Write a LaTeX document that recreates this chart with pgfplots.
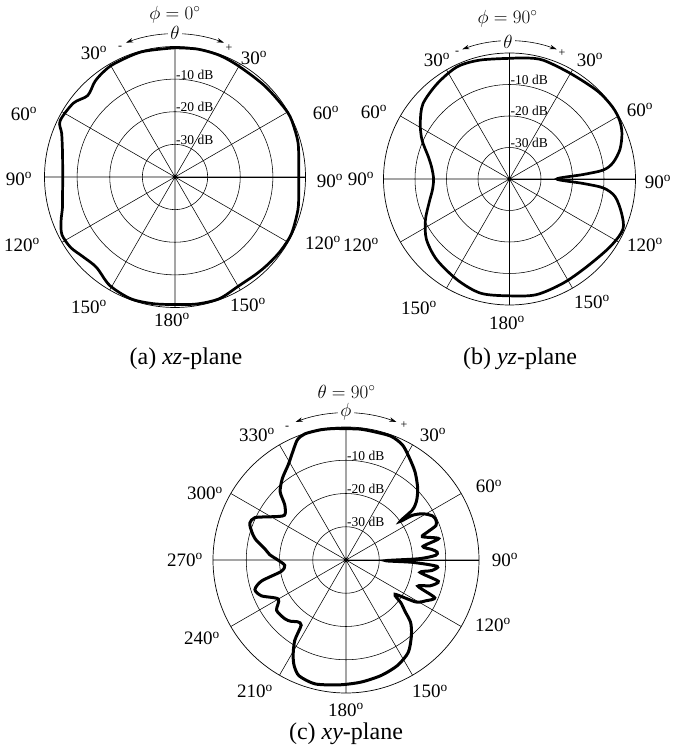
\RequirePackage{fix-cm}
\documentclass[border=0pt]{standalone}
\usepackage{fontspec}
\setmainfont{Liberation Serif}
\usepackage{pgfplots}
\pgfplotsset{compat=1.18}
\usepackage{pgfplotstable}
\usepgfplotslibrary{polar}
\usetikzlibrary{arrows.meta}

% angle a: degrees clockwise from the top; db: relative level
\pgfplotstableread{
a db
0 -0.4
10 -0.2
20 -0.3
30 -0.8
45 -0.8
60 -0.2
68 -0.5
75 -0.9
83 -1.8
90 -2.1
97 -1.8
105 -1.0
116 -0.3
125 -0.5
133 -0.9
140 -1.2
150 -1.3
160 -0.3
170 -0.5
180 -0.9
190 -0.6
200 -0.3
211 -1.2
221 -3.3
229 -2.7
236 -1.4
243 -1.1
249 -2.6
255 -4.3
262 -5.2
270 -5.6
277 -5.3
283 -4.6
291 -2.8
296 -0.8
306 -1.5
313 -3.4
320 -1.8
326 -1.0
332 -0.6
345 -0.3
360 -0.4
}\dataA

\pgfplotstableread{
a db
0 -1.7
8 -1.2
16 -0.8
30 -1.3
45 -0.5
55 -0.1
62 -0.4
68 -1.5
75 -3.7
81 -6.7
84.5 -10
86.5 -16.5
90 -25
93.5 -16.5
95.5 -10
99.5 -6
107 -2.8
114 -0.6
124 -1.5
139 -2.9
153 -2.8
167 -2.3
180 -2.9
194 -2.6
207 -3.9
222 -5.5
234 -7.4
244 -10.3
254 -13.5
262 -15.3
270 -15.9
278 -15.1
285 -13.4
294 -9.6
302 -6.6
311 -3.6
323 -2.0
335 -0.7
346 -1.1
360 -1.7
}\dataB

\pgfplotstableread{
a db
0 -0.5
6 -0.4
12 -0.5
20 -0.4
26 -1.4
31 -3.5
38 -6.3
45 -9.5
50 -12.3
53 -15
54.5 -20
56 -16
59 -13
63 -10.8
66 -10.4
69 -11
71 -14
73 -16
77 -11.4
80 -16.5
83 -14
85 -12.5
87 -13
89 -18
91 -28
92 -20
94 -12.5
97 -14
99.5 -17.4
103 -11.5
107 -13.5
110 -17
113 -11
117 -13
121 -15.5
125 -22
128 -19
131 -16.5
134 -13
139 -10
146 -6.5
154 -4.7
163 -3.7
173 -3
183 -2.4
194 -1.6
202 -2.4
206 -4.5
209 -7.2
212.5 -11.3
214.5 -16.2
218 -16.4
222 -15.2
226 -14.5
234 -14.2
240 -16.5
247 -12.4
252 -11.2
256 -13.8
260 -20.2
265 -21.5
270 -19.5
274 -17
278 -15.3
283 -12
287 -10.3
291 -9
295 -9.8
300 -14
306 -17.1
312 -15.2
316 -11.5
322 -8.9
329 -6.4
334 -3.6
338 -1
342 -0.1
349 -0.1
355 -0.3
360 -0.5
}\dataC

\pgfplotsset{
  pat/.style={
    scale only axis, width=#1, height=#1, anchor=center,
    xmin=0, xmax=360, ymin=0, ymax=40,
    xtick={0,30,...,330}, ytick={10,20,30},
    xticklabels={}, yticklabels={},
    x tick label style={opacity=0}, y tick label style={opacity=0},
    major tick length=0pt, tick style={draw=none},
    grid=major, major grid style={black, line width=0.55pt},
    axis line style={black, line width=0.7pt},
    clip=false,
  },
}

\tikzset{
  lab/.style={font=\fontsize{19}{21}\selectfont, inner sep=0pt},
  capt/.style={font=\fontsize{24}{26}\selectfont, inner sep=0pt},
  dbl/.style={font=\fontsize{13.5}{15}\selectfont, inner sep=1pt, anchor=base west},
  arr/.style={{Stealth[length=7pt,width=4.5pt]}-{Stealth[length=7pt,width=4.5pt]}, line width=0.6pt},
}

\begin{document}
\begin{tikzpicture}[x=1pt,y=1pt]
\path[use as bounding box] (0,0) rectangle (675,749);

% (a) xz-plane
\begin{polaraxis}[pat=261pt, at={(175pt,572pt)}]
  \addplot[black, line width=2.7pt, smooth, tension=0.5]
    table[x expr={90-\thisrow{a}}, y expr={\thisrow{db}+40}] {\dataA};
  \node[dbl] at (axis cs:90,30) {-10 dB};
  \node[dbl] at (axis cs:90,20) {-20 dB};
  \node[dbl] at (axis cs:90,10) {-30 dB};
\end{polaraxis}
\node[lab] at (175,734) {$\phi=0^{\circ}$};
\draw[arr] (175pt,572pt) ++(110:143pt) arc[start angle=110, end angle=70, radius=143pt];
\node[lab, fill=white, inner sep=2pt] at (175,716) {$\theta$};
\node[font=\fontsize{12}{14}\selectfont] at (120,701.5) {-};
\node[font=\fontsize{12}{14}\selectfont] at (229,700.5) {+};
\node[lab] at (94,696) {30\textsuperscript{o}};
\node[lab] at (254,691) {30\textsuperscript{o}};
\node[lab] at (24,635) {60\textsuperscript{o}};
\node[lab] at (326,636) {60\textsuperscript{o}};
\node[lab] at (19,570) {90\textsuperscript{o}};
\node[lab] at (330,568) {90\textsuperscript{o}};
\node[lab] at (22,504) {120\textsuperscript{o}};
\node[lab] at (323,506) {120\textsuperscript{o}};
\node[lab] at (89,442) {150\textsuperscript{o}};
\node[lab] at (248,444) {150\textsuperscript{o}};
\node[lab] at (172,429) {180\textsuperscript{o}};
\node[capt] at (186,390) {(a) \textit{xz}-plane};

% (b) yz-plane
\begin{polaraxis}[pat=252pt, at={(509.5pt,570pt)}]
  \addplot[black, line width=2.7pt, smooth, tension=0.5]
    table[x expr={90-\thisrow{a}}, y expr={\thisrow{db}+40}] {\dataB};
  \node[dbl] at (axis cs:90,30) {-10 dB};
  \node[dbl] at (axis cs:90,20) {-20 dB};
  \node[dbl] at (axis cs:90,10) {-30 dB};
\end{polaraxis}
\node[lab] at (507.5,730) {$\phi=90^{\circ}$};
\draw[arr] (509.5pt,570pt) ++(110:138pt) arc[start angle=110, end angle=70, radius=138pt];
\node[lab, fill=white, inner sep=2pt] at (508,707.5) {$\theta$};
\node[font=\fontsize{12}{14}\selectfont] at (457,696) {-};
\node[font=\fontsize{12}{14}\selectfont] at (562,696) {+};
\node[lab] at (437,689) {30\textsuperscript{o}};
\node[lab] at (590,689) {30\textsuperscript{o}};
\node[lab] at (374,637) {60\textsuperscript{o}};
\node[lab] at (640,639) {60\textsuperscript{o}};
\node[lab] at (361,570) {90\textsuperscript{o}};
\node[lab] at (658,567) {90\textsuperscript{o}};
\node[lab] at (361,504) {120\textsuperscript{o}};
\node[lab] at (645,504) {120\textsuperscript{o}};
\node[lab] at (419,441) {150\textsuperscript{o}};
\node[lab] at (592,447) {150\textsuperscript{o}};
\node[lab] at (507,426) {180\textsuperscript{o}};
\node[capt] at (520,390) {(b) \textit{yz}-plane};

% (c) xy-plane
\begin{polaraxis}[pat=266pt, at={(346pt,189pt)}]
  \addplot[black, line width=3pt, smooth, tension=0.45]
    table[x expr={90-\thisrow{a}}, y expr={\thisrow{db}+40}] {\dataC};
  \node[dbl] at (axis cs:90,30) {-10 dB};
  \node[dbl] at (axis cs:90,20) {-20 dB};
  \node[dbl] at (axis cs:90,10) {-30 dB};
\end{polaraxis}
\node[lab] at (346.5,357.5) {$\theta=90^{\circ}$};
\draw[arr] (346pt,189pt) ++(110:147pt) arc[start angle=110, end angle=70, radius=147pt];
\node[lab, fill=white, inner sep=2pt] at (346,337.5) {$\phi$};
\node[font=\fontsize{12}{14}\selectfont] at (287,321.5) {-};
\node[font=\fontsize{12}{14}\selectfont] at (404,324) {+};
\node[lab] at (257,314) {330\textsuperscript{o}};
\node[lab] at (433,314) {30\textsuperscript{o}};
\node[lab] at (205,255.5) {300\textsuperscript{o}};
\node[lab] at (489,262.5) {60\textsuperscript{o}};
\node[lab] at (185,189) {270\textsuperscript{o}};
\node[lab] at (505,189) {90\textsuperscript{o}};
\node[lab] at (202,110.5) {240\textsuperscript{o}};
\node[lab] at (493,124) {120\textsuperscript{o}};
\node[lab] at (255,57.5) {210\textsuperscript{o}};
\node[lab] at (430,57.5) {150\textsuperscript{o}};
\node[lab] at (346,39) {180\textsuperscript{o}};
\node[capt] at (346,15.5) {(c) \textit{xy}-plane};
\end{tikzpicture}
\end{document}
